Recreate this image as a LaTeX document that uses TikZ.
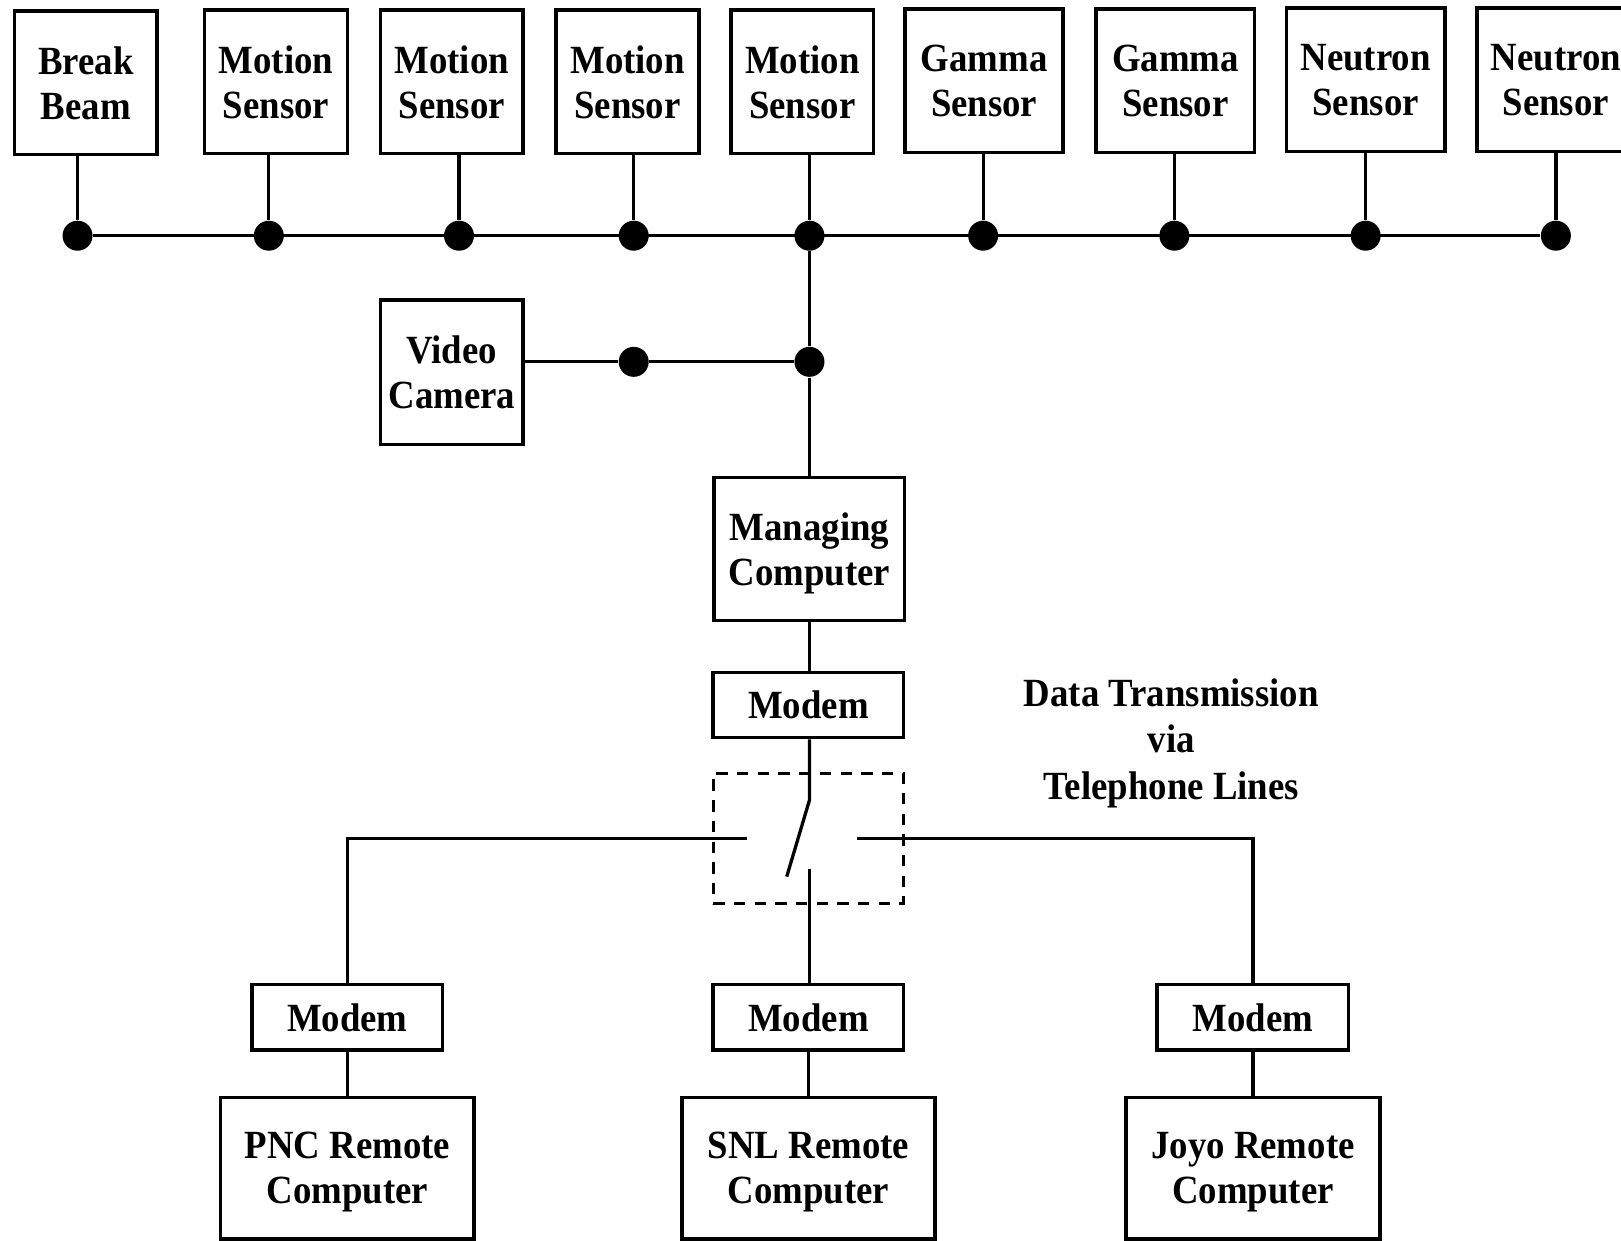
\documentclass[tikz,border=0pt]{standalone}
\usepackage{fontspec}
\setmainfont{Liberation Serif}[FakeStretch=0.92]
\begin{document}
\begin{tikzpicture}[x=0.01cm,y=-0.01cm,
    unit/.style={draw,line width=1pt,align=center,inner sep=0pt,text depth=-1.5pt,
      font=\fontsize{11}{12.4}\selectfont\bfseries},
    sensor/.style={unit,minimum width=1.38cm,minimum height=1.39cm},
    widesensor/.style={unit,minimum width=1.53cm,minimum height=1.39cm},
    modem/.style={unit,minimum width=1.84cm,minimum height=0.63cm},
    remote/.style={unit,minimum width=2.45cm,minimum height=1.37cm},
    switchbox/.style={draw,dashed,line width=0.8pt,dash pattern=on 0.11cm off 0.09cm,
      minimum width=1.84cm,minimum height=1.26cm},
    junction/.style={circle,fill=black,inner sep=0pt,minimum size=0.29cm},
    note/.style={align=center,font=\fontsize{11}{12.9}\selectfont\bfseries},
    wire/.style={line width=0.9pt}]

  \useasboundingbox (0,0) rectangle (1568,1200);

  % sensors
  \node[sensor] (beam) at (83,80) {Break\\Beam};
  \node[sensor] (motionA) at (267,79) {Motion\\Sensor};
  \node[sensor] (motionB) at (437,79) {Motion\\Sensor};
  \node[sensor] (motionC) at (607,79) {Motion\\Sensor};
  \node[sensor] (motionD) at (776,79) {Motion\\Sensor};
  \node[widesensor] (gammaA) at (952,78) {Gamma\\Sensor};
  \node[widesensor] (gammaB) at (1137,78) {Gamma\\Sensor};
  \node[widesensor] (neutronA) at (1321,77) {Neutron\\Sensor};
  \node[widesensor] (neutronB) at (1505,77) {Neutron\\Sensor};

  % bus junctions
  \node[junction] (jA) at (75,228) {};
  \node[junction] (jB) at (260,228) {};
  \node[junction] (jC) at (444,228) {};
  \node[junction] (jD) at (613,228) {};
  \node[junction] (jE) at (783,228) {};
  \node[junction] (jF) at (951,228) {};
  \node[junction] (jG) at (1136,228) {};
  \node[junction] (jH) at (1321,228) {};
  \node[junction] (jI) at (1505,228) {};

  \draw[wire] (jA) -- (jI);
  \draw[wire] (beam.south -| jA) -- (jA);
  \draw[wire] (motionA.south -| jB) -- (jB);
  \draw[wire] (motionB.south -| jC) -- (jC);
  \draw[wire] (motionC.south -| jD) -- (jD);
  \draw[wire] (motionD.south -| jE) -- (jE);
  \draw[wire] (gammaA.south -| jF) -- (jF);
  \draw[wire] (gammaB.south -| jG) -- (jG);
  \draw[wire] (neutronA.south -| jH) -- (jH);
  \draw[wire] (neutronB.south -| jI) -- (jI);

  % camera branch and managing computer
  \node[sensor,minimum height=1.40cm] (camera) at (437,360) {Video\\Camera};
  \node[junction] (jcam) at (613,350) {};
  \node[junction] (jmain) at (783,350) {};
  \node[unit,minimum width=1.84cm,minimum height=1.38cm] (manager) at (783,531) {Managing\\Computer};
  \node[modem] (hostmodem) at (782,682) {Modem};

  \draw[wire] (camera.east |- jcam) -- (jcam) -- (jmain);
  \draw[wire] (jE) -- (jmain) -- (manager.north -| jmain);
  \draw[wire] (manager.south -| jmain) -- (hostmodem.north -| jmain);

  % telephone switch
  \node[switchbox] (switch) at (782,811) {};
  \coordinate (pivot) at (783,774);
  \coordinate (blade) at (761,848);
  \coordinate (contact) at (783,841);
  \coordinate (leftend) at (723,811);
  \coordinate (rightend) at (829,811);
  \draw[wire] (hostmodem.south -| pivot) -- (pivot) -- (blade);

  \node[note] (link) at (1133,719) {Data Transmission\\via\\Telephone Lines};

  % remote sites
  \node[modem] (pncmodem) at (336,984) {Modem};
  \node[modem] (snlmodem) at (782,984) {Modem};
  \node[modem,minimum width=1.85cm] (joyomodem) at (1212,984) {Modem};
  \node[remote] (pnc) at (336,1130) {PNC Remote\\Computer};
  \node[remote] (snl) at (782,1130) {SNL Remote\\Computer};
  \node[remote] (joyo) at (1212,1130) {Joyo Remote\\Computer};

  \draw[wire] (leftend) -| (pncmodem.north);
  \draw[wire] (rightend) -| (joyomodem.north);
  \draw[wire] (contact) -- (snlmodem.north -| contact);
  \draw[wire] (pncmodem) -- (pnc);
  \draw[wire] (snlmodem) -- (snl);
  \draw[wire] (joyomodem) -- (joyo);

\end{tikzpicture}
\end{document}
